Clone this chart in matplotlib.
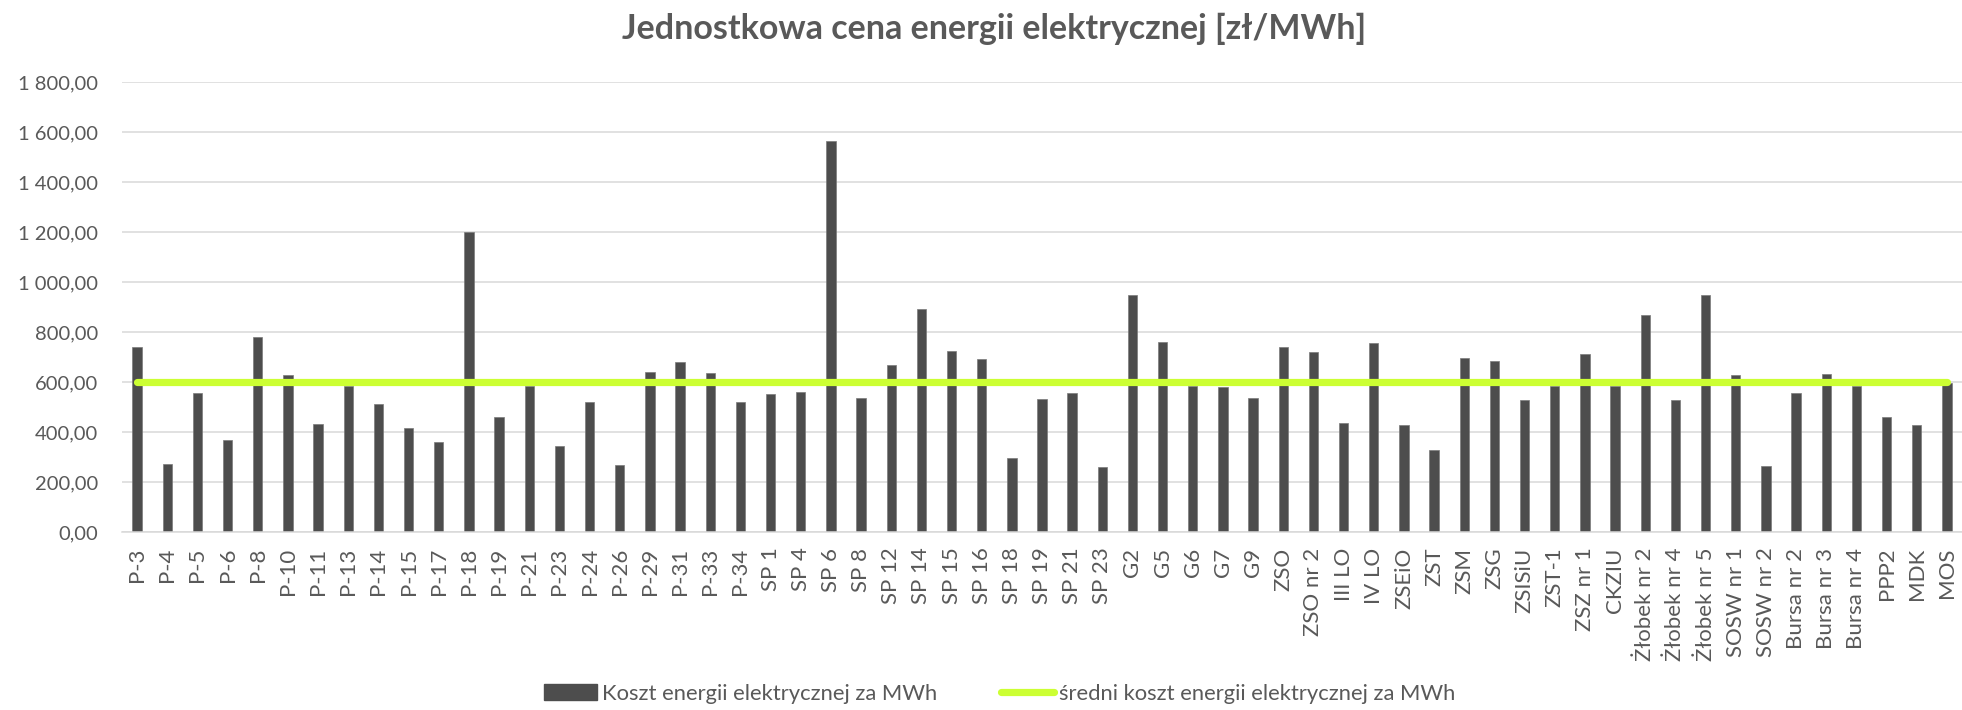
import matplotlib
matplotlib.use("Agg")
import matplotlib.pyplot as plt
from matplotlib.ticker import FuncFormatter, MultipleLocator
from matplotlib.lines import Line2D
from matplotlib.patches import Patch

plt.rcParams['font.family'] = ['Lato', 'DejaVu Sans']

# Unit electricity price per facility [zł/MWh]
facilities = [
    "P-3", "P-4", "P-5", "P-6", "P-8", "P-10", "P-11", "P-13", "P-14", "P-15",
    "P-17", "P-18", "P-19", "P-21", "P-23", "P-24", "P-26", "P-29", "P-31", "P-33",
    "P-34", "SP 1", "SP 4", "SP 6", "SP 8", "SP 12", "SP 14", "SP 15", "SP 16", "SP 18",
    "SP 19", "SP 21", "SP 23", "G2", "G5", "G6", "G7", "G9", "ZSO", "ZSO nr 2",
    "III LO", "IV LO", "ZSEiO", "ZST", "ZSM", "ZSG", "ZSISiU", "ZST-1", "ZSZ nr 1", "CKZIU",
    "Żłobek nr 2", "Żłobek nr 4", "Żłobek nr 5", "SOSW nr 1", "SOSW nr 2",
    "Bursa nr 2", "Bursa nr 3", "Bursa nr 4", "PPP2", "MDK", "MOS",
]
cost_per_mwh = [
    743, 272, 556, 369, 783, 629, 432, 586, 513, 416,
    363, 1203, 461, 586, 345, 521, 269, 641, 683, 639,
    521, 555, 561, 1565, 539, 669, 892, 724, 693, 296,
    532, 557, 260, 948, 760, 586, 580, 537, 740, 720,
    437, 757, 431, 328, 699, 685, 529, 586, 712, 586,
    868, 528, 948, 629, 264,
    558, 633, 586, 460, 428, 597,
]
mean_cost = 600.0

series_labels = ["Koszt energii elektrycznej za MWh",
                 "średni koszt energii elektrycznej za MWh"]
title = "Jednostkowa cena energii elektrycznej [zł/MWh]"

TEXT = "#595959"
BAR = "#4D4D4D"
LINE = "#CCFF33"
GRID = "#D9D9D9"

W, H = 1962, 710
fig = plt.figure(figsize=(W / 100, H / 100), dpi=100)
ax = fig.add_axes([122 / W, 1 - 532.3 / H, (1962 - 122) / W, (532.3 - 82.3) / H])

x = list(range(len(facilities)))
ax.bar(x, cost_per_mwh, width=0.31, color=BAR, edgecolor="#7a7a7a", linewidth=0.5, zorder=2)
ax.plot([x[0], x[-1]], [mean_cost, mean_cost], color=LINE, linewidth=5.2,
        solid_capstyle="round", zorder=3)

ax.set_xlim(-0.5, len(facilities) - 0.5)
ax.set_ylim(0, 1800)
ax.yaxis.set_major_locator(MultipleLocator(200))


def pl_fmt(v, _pos):
    return f"{v:,.2f}".replace(",", " ").replace(".", ",")


ax.yaxis.set_major_formatter(FuncFormatter(pl_fmt))
ax.grid(axis="y", color=GRID, linewidth=1.1, zorder=0)
ax.set_axisbelow(True)
for s in ("top", "right", "left"):
    ax.spines[s].set_visible(False)
ax.spines["bottom"].set_color(GRID)
ax.spines["bottom"].set_linewidth(1.1)

ax.set_xticks(x)
ax.set_xticklabels(facilities, rotation=90, fontsize=16, color=TEXT)
ax.tick_params(axis="x", length=0, pad=11)
ax.tick_params(axis="y", length=0, pad=17, labelsize=14.5, labelcolor=TEXT)

fig.text(994 / W, 1 - 29 / H, title, ha="center", va="center",
         fontsize=24.5, fontweight="bold", color=TEXT)

handles = [
    Patch(facecolor=BAR, edgecolor=BAR),
    Line2D([0], [0], color=LINE, linewidth=5.2, solid_capstyle="round"),
]
fig.legend(handles, series_labels, loc="center", ncol=2,
           bbox_to_anchor=(1000 / W, 1 - 694 / H), frameon=False,
           fontsize=15.8, labelcolor=TEXT, handlelength=2.4, handleheight=0.75,
           handletextpad=0.25, columnspacing=2.9)

fig.savefig("out.png", dpi=100)
